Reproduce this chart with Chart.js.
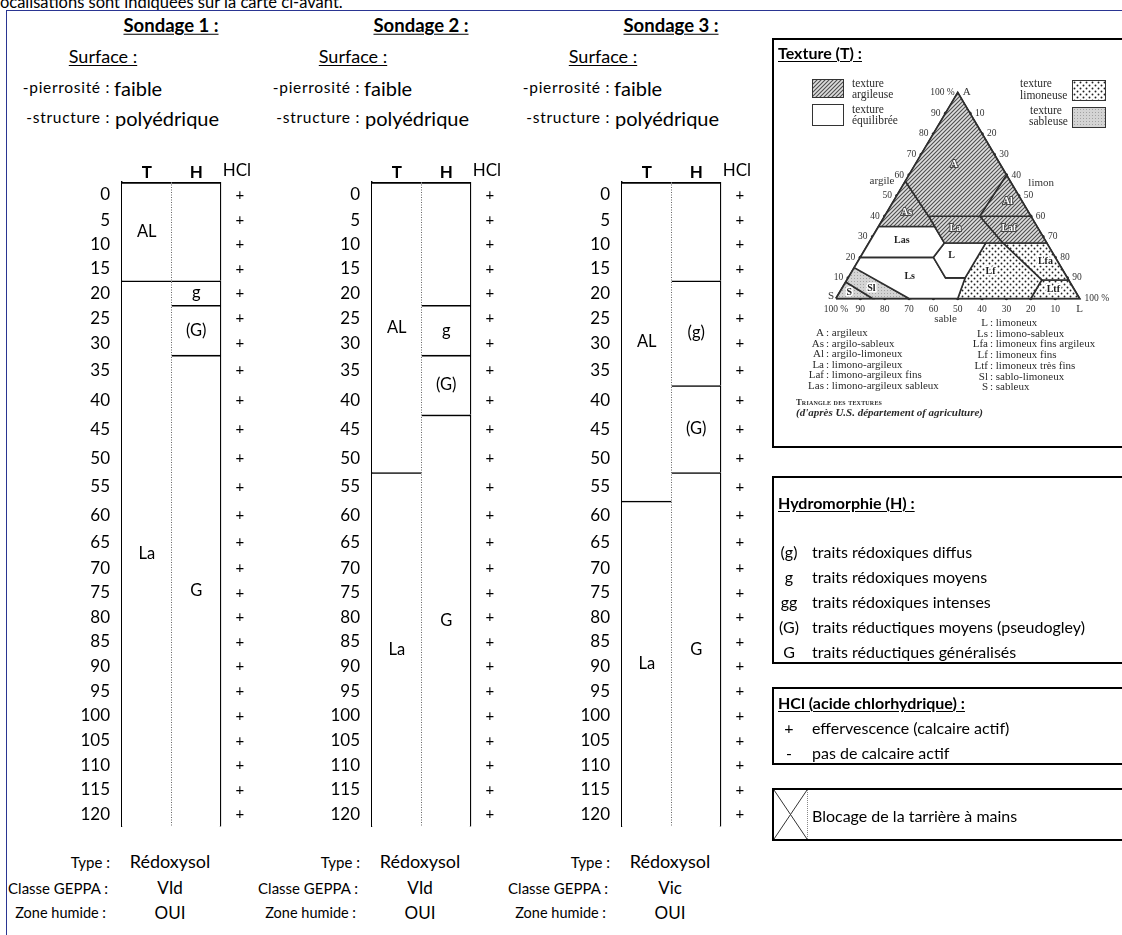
<!DOCTYPE html>
<html lang="fr">
<head>
<meta charset="utf-8">
<title>Sondages pédologiques</title>
<script src="https://cdn.jsdelivr.net/npm/chart.js@4.4.1/dist/chart.umd.min.js"></script>
<style>
  html, body { margin: 0; padding: 0; background: #fff; }
  body { position: relative; width: 1122px; height: 935px; overflow: hidden;
         font-family: Lato, "Open Sans", sans-serif; color: #000; }
  .t { position: absolute; white-space: nowrap; line-height: 1; transform: translateY(-50%); }
  .t.r { transform: translate(-100%, -50%); }
  .t.c { transform: translate(-50%, -50%); }
  .u { text-decoration: underline; text-underline-offset: 2px; }
  .b { font-weight: bold; }
  .serif { font-family: "Liberation Serif", "DejaVu Serif", serif; color: #2b2b2b; }
  .frame-top { position: absolute; left: 6px; top: 10px; right: 0; border-top: 1.5px solid #2a3592; }
  .frame-left { position: absolute; left: 6px; top: 10px; bottom: 0; border-left: 1.5px solid #2a3592; }
  .box { position: absolute; left: 772px; width: 400px; border: 2px solid #000; }
  .sw { position: absolute; border: 1px solid #333; background-repeat: repeat; }
  canvas { position: absolute; }
</style>
</head>
<body>
<div class="t" style="left:-4px; top:2px; font-size:16.5px;">localisations sont indiquées sur la carte ci-avant.</div>
<div class="frame-top"></div>
<div class="frame-left"></div>

<canvas id="s1" width="205" height="685" style="left:70px; top:156px;"></canvas>
<canvas id="s2" width="205" height="685" style="left:320px; top:156px;"></canvas>
<canvas id="s3" width="205" height="685" style="left:570px; top:156px;"></canvas>

<!-- Texture panel -->
<div class="box" style="top:38px; height:406px;"></div>
<div class="t b u" style="left:778px; top:53px; font-size:16px;">Texture (T) :</div>
<div id="sw-arg" class="sw" style="left:812px; top:79px; width:30px; height:17px;"></div>
<div id="sw-equ" class="sw" style="left:812px; top:104px; width:30px; height:20px;"></div>
<div id="sw-lim" class="sw" style="left:1072px; top:80px; width:32px; height:19px;"></div>
<div id="sw-sab" class="sw" style="left:1072px; top:107px; width:32px; height:19px;"></div>
<div class="t serif" style="left:852px; top:84px; font-size:11.5px;">texture</div>
<div class="t serif" style="left:852px; top:95px; font-size:11.5px;">argileuse</div>
<div class="t serif" style="left:852px; top:110px; font-size:11.5px;">texture</div>
<div class="t serif" style="left:852px; top:121px; font-size:11.5px;">équilibrée</div>
<div class="t serif" style="left:1020px; top:84px; font-size:11.5px;">texture</div>
<div class="t serif" style="left:1020px; top:96px; font-size:11.5px;">limoneuse</div>
<div class="t serif" style="left:1030px; top:111px; font-size:11.5px;">texture</div>
<div class="t serif" style="left:1029px; top:122px; font-size:11.5px;">sableuse</div>
<canvas id="tri" width="332" height="262" style="left:790px; top:70px;"></canvas>
<div class="t serif b" style="left:796px; top:402px; font-size:8.5px; font-variant:small-caps; letter-spacing:0.2px;">Triangle des textures</div>
<div class="t serif b" style="left:796px; top:412px; font-size:11px; font-style:italic;">(d'après U.S. département of agriculture)</div>

<!-- Hydromorphie panel -->
<div class="box" style="top:476px; height:184px;"></div>
<div class="t b u" style="left:778px; top:503px; font-size:16px;">Hydromorphie (H) :</div>

<!-- HCl panel -->
<div class="box" style="top:687px; height:74px;"></div>
<div class="t b u" style="left:778px; top:703px; font-size:16px;">HCl (acide chlorhydrique) :</div>

<!-- Blocage panel -->
<div class="box" style="top:788px; height:49px;"></div>
<svg style="position:absolute; left:774px; top:790px;" width="34" height="49">
  <line x1="0" y1="0" x2="33" y2="49" stroke="#333" stroke-width="1"/>
  <line x1="33" y1="0" x2="0" y2="49" stroke="#333" stroke-width="1"/>
  <line x1="33.5" y1="0" x2="33.5" y2="49" stroke="#888" stroke-width="1" stroke-dasharray="1 1"/>
</svg>
<div class="t" style="left:812px; top:816px; font-size:16px;">Blocage de la tarrière à mains</div>

<script>
// ---------- data ----------
const depthTicks = [0, 5, 10, 15, 20, 25, 30, 35, 40, 45, 50, 55, 60, 65, 70, 75, 80, 85, 90, 95, 100, 105, 110, 115, 120];
const columns = ['T', 'H', 'HCl'];

// horizons: [label, depth top, depth bottom] (cm)
const texture1 = [['AL', 0, 20], ['La', 20, 125]];
const hydro1 = [['', 0, 20], ['g', 20, 25], ['(G)', 25, 35], ['G', 35, 125]];
const texture2 = [['AL', 0, 55], ['La', 55, 125]];
const hydro2 = [['', 0, 25], ['g', 25, 35], ['(G)', 35, 45], ['G', 45, 125]];
const texture3 = [['AL', 0, 60], ['La', 60, 125]];
const hydro3 = [['', 0, 20], ['(g)', 20, 40], ['(G)', 40, 55], ['G', 55, 125]];

const hcl1 = ['+', '+', '+', '+', '+', '+', '+', '+', '+', '+', '+', '+', '+', '+', '+', '+', '+', '+', '+', '+', '+', '+', '+', '+', '+'];
const hcl2 = ['+', '+', '+', '+', '+', '+', '+', '+', '+', '+', '+', '+', '+', '+', '+', '+', '+', '+', '+', '+', '+', '+', '+', '+', '+'];
const hcl3 = ['+', '+', '+', '+', '+', '+', '+', '+', '+', '+', '+', '+', '+', '+', '+', '+', '+', '+', '+', '+', '+', '+', '+', '+', '+'];

const sondageTitles = ['Sondage 1 :', 'Sondage 2 :', 'Sondage 3 :'];
const stoniness = ['faible', 'faible', 'faible'];
const structure = ['polyédrique', 'polyédrique', 'polyédrique'];
const soilType = ['Rédoxysol', 'Rédoxysol', 'Rédoxysol'];
const geppaClass = ['VId', 'VId', 'Vic'];
const wetland = ['OUI', 'OUI', 'OUI'];

// texture triangle, vertices as [argile %, limon %]
const regionNames = ['A', 'As', 'Al', 'La', 'Laf', 'Las', 'L', 'Ls', 'Lf', 'Lfa', 'Ltf', 'Sl', 'S'];
const regionTexture = ['argileuse', 'argileuse', 'argileuse', 'argileuse', 'argileuse',
  'equilibree', 'equilibree', 'equilibree', 'limoneuse', 'limoneuse', 'limoneuse', 'sableuse', 'sableuse'];
const regionVertices = [
  [[57, 0], [100, 0], [60, 40], [40, 39], [40, 18]],
  [[35, 0], [57, 0], [40, 18], [35, 23]],
  [[40, 39], [60, 40], [40, 60]],
  [[40, 18], [40, 39], [27, 55], [27, 31]],
  [[40, 39], [40, 60], [27, 73], [27, 55]],
  [[35, 0], [35, 23], [27, 31], [20, 30], [20, 0]],
  [[27, 31], [27, 48], [10, 48], [10, 40], [20, 30]],
  [[15, 0], [20, 0], [20, 30], [10, 40], [10, 48], [0, 50], [0, 30]],
  [[0, 50], [10, 48], [27, 48], [27, 55], [9, 80], [0, 80]],
  [[27, 55], [27, 73], [9, 91], [9, 80]],
  [[9, 80], [9, 91], [0, 100], [0, 80]],
  [[8, 0], [15, 0], [0, 30], [0, 15]],
  [[0, 0], [8, 0], [0, 15]],
];
const regionLabelAt = [[65, 16], [42, 8], [47, 47], [34, 32], [34, 54], [28, 13], [21, 37],
  [10.5, 25], [13, 57], [18, 77], [4.5, 87], [5, 12], [3, 4]];
const dashedLines = [[[17.5, 0], [17.5, 32.5]], [[56, 39], [16, 42]]];
const argileTicks = [10, 20, 30, 40, 50, 60, 70, 80, 90, 100];
const limonTicks = [10, 20, 30, 40, 50, 60, 70, 80, 90, 100];
const sableTicks = [100, 90, 80, 70, 60, 50, 40, 30, 20, 10];

const abbrevLeft = [['A', 'argileux'], ['As', 'argilo-sableux'], ['Al', 'argilo-limoneux'],
  ['La', 'limono-argileux'], ['Laf', 'limono-argileux fins'], ['Las', 'limono-argileux sableux']];
const abbrevRight = [['L', 'limoneux'], ['Ls', 'limono-sableux'], ['Lfa', 'limoneux fins argileux'],
  ['Lf', 'limoneux fins'], ['Ltf', 'limoneux très fins'], ['Sl', 'sablo-limoneux'], ['S', 'sableux']];
const hydroLegend = [['(g)', 'traits rédoxiques diffus'], ['g', 'traits rédoxiques moyens'],
  ['gg', 'traits rédoxiques intenses'], ['(G)', 'traits réductiques moyens (pseudogley)'],
  ['G', 'traits réductiques généralisés']];
const hclLegend = [['+', 'effervescence (calcaire actif)'], ['-', 'pas de calcaire actif']];

// ---------- layout ----------
// the sheet rows are not all the same height (px per 5 cm row)
const sheetRowHeights = [26.5, 25, 25, 24.5, 25, 26.5, 24.5, 31, 30, 30, 29, 29, 29, 27, 25.5,
  25, 25, 25, 25, 25.5, 25.5, 25, 25, 25.5, 25];
const sheetTotal = sheetRowHeights.reduce((s, h) => s + h, 0);

function depthToDecimal(v) {
  let acc = 0;
  const n = sheetRowHeights.length;
  for (let i = 0; i < n; i++) {
    const lo = i * 5;
    if (v <= lo + 5 || i === n - 1) return (acc + (v - lo) / 5 * sheetRowHeights[i]) / sheetTotal;
    acc += sheetRowHeights[i];
  }
}
function decimalToDepth(d) {
  const target = d * sheetTotal;
  let acc = 0;
  const n = sheetRowHeights.length;
  for (let i = 0; i < n; i++) {
    if (target <= acc + sheetRowHeights[i] || i === n - 1) return i * 5 + (target - acc) / sheetRowHeights[i] * 5;
    acc += sheetRowHeights[i];
  }
}

class SheetRowScale extends Chart.LinearScale {
  static id = 'sheetRows';
  static defaults = Chart.LinearScale.defaults;
  getPixelForValue(value) {
    if (value === null || isNaN(value)) return NaN;
    return this.getPixelForDecimal(depthToDecimal(value));
  }
  getValueForPixel(pixel) {
    return decimalToDepth(this.getDecimalForPixel(pixel));
  }
}
Chart.register(SheetRowScale);

Chart.defaults.font.family = 'Lato';
Chart.defaults.color = '#000';
Chart.defaults.animation = false;

// ---------- html text ----------
function put(text, x, y, size, cls, extra) {
  const el = document.createElement('div');
  el.className = 't ' + (cls || '');
  el.textContent = text;
  el.style.left = x + 'px';
  el.style.top = y + 'px';
  el.style.fontSize = size + 'px';
  if (extra) Object.assign(el.style, extra);
  document.body.appendChild(el);
  return el;
}

sondageTitles.forEach((title, k) => {
  const dx = k * 250;
  put(title, 171 + dx, 25, 18.5, 'c b u');
  put('Surface :', 103 + dx, 56, 18, 'c u');
  put('-pierrosité :', 110 + dx, 88, 15.5, 'r', { letterSpacing: '0.7px' });
  put(stoniness[k], 114 + dx, 88, 20);
  put('-structure :', 110 + dx, 118, 15.5, 'r', { letterSpacing: '0.7px' });
  put(structure[k], 115 + dx, 118, 20);
  put('Type :', 110 + dx, 862, 15, 'r');
  put(soilType[k], 170 + dx, 861, 18, 'c');
  put('Classe GEPPA :', 108 + dx, 888, 15, 'r');
  put(geppaClass[k], 170 + dx, 887, 17, 'c');
  put('Zone humide :', 106 + dx, 913, 14.5, 'r');
  put(wetland[k], 170 + dx, 912, 17, 'c');
});

abbrevLeft.forEach(([abbr, txt], i) => {
  put(abbr, 824, 332 + i * 10.6, 11, 'r serif');
  put(': ' + txt, 826, 332 + i * 10.6, 11, 'serif');
});
abbrevRight.forEach(([abbr, txt], i) => {
  put(abbr, 988, 322 + i * 10.7, 11, 'r serif');
  put(': ' + txt, 990, 322 + i * 10.7, 11, 'serif');
});
hydroLegend.forEach(([sym, txt], i) => {
  put(sym, 789, 552 + i * 25, 16, 'c');
  put(txt, 812, 552 + i * 25, 16);
});
hclLegend.forEach(([sym, txt], i) => {
  put(sym, 789, 728 + i * 25, 16, 'c');
  put(txt, 812, 728 + i * 25, 16);
});

// ---------- soil logs ----------
const columnX = [0.5, 1.5, 2.38];   // T, H, HCl positions on the x axis (column units)
const hclHeaderX = 2.32;

const cellText = {
  id: 'cellText',
  afterDatasetsDraw(chart) {
    const { ctx, chartArea, scales } = chart;
    ctx.save();
    ctx.fillStyle = '#000';
    ctx.textAlign = 'center';
    ctx.textBaseline = 'middle';
    // third column header, on the same row as the T / H tick labels
    ctx.font = '17px Lato';
    ctx.fillText(columns[2], scales.x.getPixelForValue(hclHeaderX), chartArea.top - 11);
    chart.data.datasets.forEach((ds, di) => {
      const meta = chart.getDatasetMeta(di);
      ctx.font = ds.type === 'line' ? '15px Lato' : '16.5px Lato';
      meta.data.forEach((el, i) => {
        const txt = ds.data[i].text;
        if (!txt) return;
        const p = el.getProps(['x', 'y', 'base'], true);
        const cy = ds.type === 'line' ? p.y : (p.y + p.base) / 2;
        ctx.fillText(txt, p.x, cy);
      });
    });
    ctx.restore();
  }
};

function drawSondage(id, texture, hydro, hcl) {
  const topBorder = (c) => (c.raw.y[0] === 0 ? 2.2 : 1.6);
  new Chart(document.getElementById(id), {
    type: 'bar',
    data: {
      datasets: [
        {
          type: 'line', order: 0,
          data: depthTicks.map((d, i) => ({ x: columnX[2], y: d + 2.5, text: hcl[i] })),
          showLine: false, pointRadius: 0,
        },
        {
          type: 'line', order: 0,
          data: [{ x: 1, y: 0 }, { x: 1, y: 125 }],
          borderColor: '#666', borderWidth: 1, borderDash: [1, 1.5], pointRadius: 0,
        },
        {
          label: 'T', order: 1,
          data: texture.map(([name, top, bottom]) => ({ x: columnX[0], y: [top, bottom], text: name })),
          backgroundColor: '#fff', borderColor: '#000', borderSkipped: false,
          borderWidth: (c) => ({ top: topBorder(c), right: 0, bottom: 0, left: 0 }),
        },
        {
          label: 'H', order: 1,
          data: hydro.map(([name, top, bottom]) => ({ x: columnX[1], y: [top, bottom], text: name })),
          backgroundColor: '#fff', borderColor: '#000', borderSkipped: false,
          borderWidth: (c) => ({ top: topBorder(c), right: 1.3, bottom: 0, left: 0 }),
        },
      ],
    },
    options: {
      responsive: false,
      events: [],
      grouped: false,
      barPercentage: 1,
      categoryPercentage: 1,
      layout: { padding: { right: 4.5 } },
      plugins: { legend: { display: false }, tooltip: { enabled: false } },
      scales: {
        x: {
          type: 'linear', position: 'top', min: 0, max: 3, offset: false,
          afterFit: (scale) => { scale.height = 26; },
          afterBuildTicks: (scale) => { scale.ticks = columnX.slice(0, 2).map((v) => ({ value: v })); },
          grid: { display: false, offset: false },
          border: { display: false },
          ticks: {
            padding: -9,
            autoSkip: false,
            maxRotation: 0,
            callback: (v, i) => columns[i],
            font: { family: 'Lato', size: 17, weight: 'bold' },
          },
        },
        y: {
          type: 'sheetRows', reverse: true, min: 0, max: 125,
          afterFit: (scale) => { scale.width = 52; },
          afterBuildTicks: (scale) => { scale.ticks = depthTicks.map((d) => ({ value: d + 2.5 })); },
          grid: { display: false },
          border: { display: true, color: '#000', width: 1.4 },
          ticks: {
            padding: 4,
            autoSkip: false,
            callback: (v, i) => String(depthTicks[i]),
            font: { size: 17 },
          },
        },
      },
    },
    plugins: [cellText],
  });
}

drawSondage('s1', texture1, hydro1, hcl1);
drawSondage('s2', texture2, hydro2, hcl2);
drawSondage('s3', texture3, hydro3, hcl3);

// ---------- texture triangle ----------
function patternTile(kind) {
  const c = document.createElement('canvas');
  const g = c.getContext('2d');
  if (kind === 'argileuse') {
    c.width = c.height = 4;
    g.fillStyle = '#dedede'; g.fillRect(0, 0, 4, 4);
    g.strokeStyle = '#4d4d4d'; g.lineWidth = 1.1;
    g.beginPath();
    g.moveTo(-1, 5); g.lineTo(5, -1);
    g.moveTo(-1, 1); g.lineTo(1, -1);
    g.moveTo(3, 5); g.lineTo(5, 3);
    g.stroke();
  } else if (kind === 'limoneuse') {
    c.width = c.height = 6;
    g.fillStyle = '#fff'; g.fillRect(0, 0, 6, 6);
    g.fillStyle = '#222';
    g.beginPath(); g.arc(1.5, 1.5, 0.95, 0, Math.PI * 2); g.fill();
    g.beginPath(); g.arc(4.5, 4.5, 0.95, 0, Math.PI * 2); g.fill();
  } else if (kind === 'sableuse') {
    c.width = c.height = 3;
    g.fillStyle = '#d4d4d4'; g.fillRect(0, 0, 3, 3);
    g.fillStyle = '#a2a2a2'; g.fillRect(1, 1, 1, 1);
  } else {
    c.width = c.height = 2;
    g.fillStyle = '#fff'; g.fillRect(0, 0, 2, 2);
  }
  return c;
}

const triCanvas = document.getElementById('tri');
const triCtx = triCanvas.getContext('2d');
const tiles = {};
const patterns = {};
['argileuse', 'equilibree', 'limoneuse', 'sableuse'].forEach((k) => {
  tiles[k] = patternTile(k);
  patterns[k] = triCtx.createPattern(tiles[k], 'repeat');
});
document.getElementById('sw-arg').style.backgroundImage = `url(${tiles.argileuse.toDataURL()})`;
document.getElementById('sw-equ').style.backgroundColor = '#fff';
document.getElementById('sw-lim').style.backgroundImage = `url(${tiles.limoneuse.toDataURL()})`;
document.getElementById('sw-sab').style.backgroundImage = `url(${tiles.sableuse.toDataURL()})`;

const toXY = ([a, l]) => ({ x: l + a / 2, y: a });
const ring = (pts) => pts.concat([pts[0]]).map(toXY);

const triangleText = {
  id: 'triangleText',
  afterDatasetsDraw(chart) {
    const { ctx, scales: { x, y } } = chart;
    const px = ([a, l]) => [x.getPixelForValue(l + a / 2), y.getPixelForValue(a)];
    ctx.save();
    ctx.fillStyle = '#333';
    ctx.textBaseline = 'middle';
    ctx.font = '9.5px "Liberation Serif"';
    ctx.textAlign = 'right';
    argileTicks.forEach((a) => {
      const [X, Y] = px([a, 0]);
      ctx.fillText(a === 100 ? '100 %' : String(a), X - (a === 100 ? 3 : 5), Y);
    });
    ctx.textAlign = 'left';
    limonTicks.forEach((l) => {
      const [X, Y] = px([100 - l, l]);
      ctx.fillText(l === 100 ? '100 %' : String(l), X + 5, Y);
    });
    ctx.textAlign = 'center';
    sableTicks.forEach((s) => {
      const [X, Y] = px([0, 100 - s]);
      ctx.fillText(s === 100 ? '100 %' : String(s), X, Y + 11);
    });
    ctx.font = '11px "Liberation Serif"';
    let [X, Y] = px([100, 0]);
    ctx.textAlign = 'left'; ctx.fillText('A', X + 5, Y - 1);
    [X, Y] = px([0, 0]);
    ctx.textAlign = 'right'; ctx.fillText('S', X - 2, Y - 2);
    [X, Y] = px([0, 100]);
    ctx.textAlign = 'center'; ctx.fillText('L', X, Y + 11);
    [X, Y] = px([57, 0]);
    ctx.textAlign = 'right'; ctx.fillText('argile', X - 11, Y);
    [X, Y] = px([56, 44]);
    ctx.textAlign = 'left'; ctx.fillText('limon', X + 17, Y);
    [X, Y] = px([0, 45]);
    ctx.textAlign = 'center'; ctx.fillText('sable', X, Y + 21);

    ctx.font = 'bold 10px "Liberation Serif"';
    ctx.lineJoin = 'round';
    regionNames.forEach((name, i) => {
      const [RX, RY] = px(regionLabelAt[i]);
      const clay = regionTexture[i] === 'argileuse';
      ctx.lineWidth = clay ? 2 : 3;
      ctx.strokeStyle = clay ? '#444' : '#fff';
      ctx.fillStyle = clay ? '#fff' : '#222';
      ctx.strokeText(name, RX, RY);
      ctx.fillText(name, RX, RY);
    });
    ctx.restore();
  }
};

const triDatasets = regionNames.map((name, i) => ({
  label: name,
  data: ring(regionVertices[i]),
  fill: 'shape',
  backgroundColor: patterns[regionTexture[i]],
  borderColor: '#2e2e2e', borderWidth: 1.6,
  pointRadius: 0, tension: 0, clip: false,
}));
dashedLines.forEach((seg) => triDatasets.push({
  data: seg.map(toXY), fill: false, borderColor: '#444', borderWidth: 1.1,
  borderDash: [4, 3], pointRadius: 0, clip: false,
}));
triDatasets.push({
  data: ring([[0, 0], [0, 100], [100, 0]]), fill: false,
  borderColor: '#2a2a2a', borderWidth: 2, pointRadius: 0, clip: false,
});
triDatasets.push({
  data: argileTicks.filter((a) => a < 100).map((a) => toXY([a, 0]))
    .concat(limonTicks.filter((l) => l < 100).map((l) => toXY([100 - l, l])))
    .concat(sableTicks.filter((s) => s < 100).map((s) => toXY([0, 100 - s]))),
  showLine: false, pointRadius: 1.7, pointBackgroundColor: '#2a2a2a', pointBorderWidth: 0, clip: false,
});

new Chart(triCanvas, {
  type: 'line',
  data: { datasets: triDatasets },
  options: {
    responsive: false,
    events: [],
    layout: { padding: { left: 46, right: 42.5, top: 22.7, bottom: 33.5 } },
    plugins: { legend: { display: false }, tooltip: { enabled: false } },
    scales: {
      x: { type: 'linear', min: 0, max: 100, display: false },
      y: { type: 'linear', min: 0, max: 100, display: false },
    },
  },
  plugins: [triangleText],
});
</script>
</body>
</html>
